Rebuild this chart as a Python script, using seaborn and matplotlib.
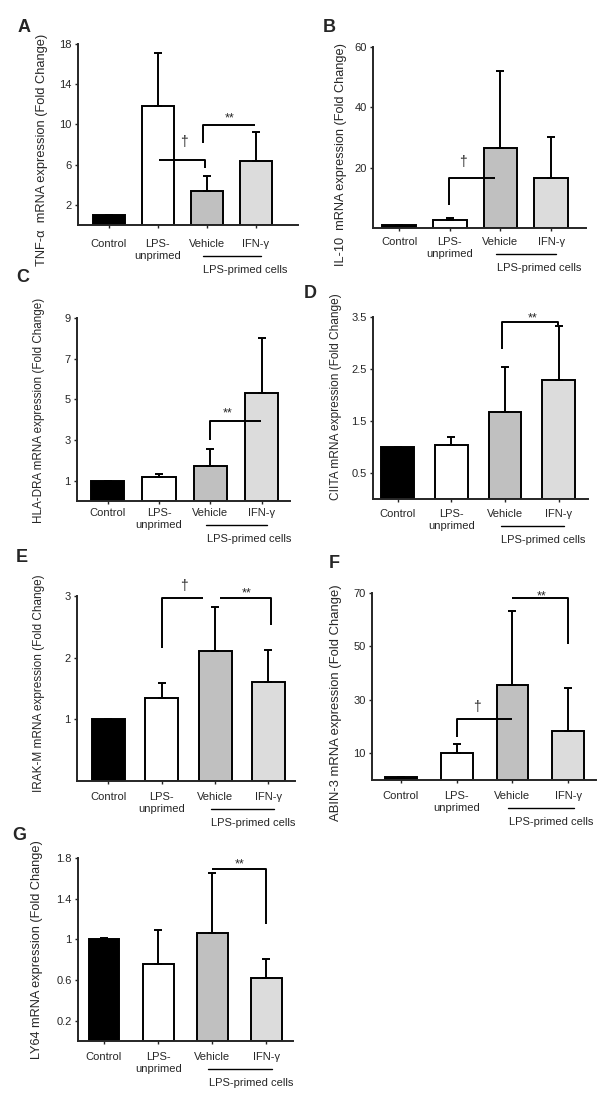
import numpy as np
import pandas as pd
import seaborn as sns
import matplotlib.pyplot as plt
from matplotlib.transforms import blended_transform_factory

sns.set_style("ticks")
plt.rcParams['font.family'] = ['Liberation Sans', 'DejaVu Sans']

groups = ["Control", "LPS-\nunprimed", "Vehicle", "IFN-\u03b3"]
bar_colors = ["#000000", "#ffffff", "#c0c0c0", "#dcdcdc"]

# means and upper SD
tnf_mean = [1.0, 11.8, 3.4, 6.4]
tnf_sd = [0.0, 5.3, 1.5, 2.85]
il10_mean = [1.0, 2.6, 26.4, 16.5]
il10_sd = [0.0, 0.6, 25.5, 13.8]
hla_mean = [1.0, 1.2, 1.7, 5.3]
hla_sd = [0.0, 0.15, 0.85, 2.7]
ciita_mean = [1.0, 1.03, 1.67, 2.29]
ciita_sd = [0.0, 0.17, 0.86, 1.04]
irak_mean = [1.0, 1.34, 2.11, 1.6]
irak_sd = [0.0, 0.25, 0.71, 0.52]
abin_mean = [1.0, 10.0, 35.6, 18.3]
abin_sd = [0.0, 3.6, 27.6, 16.0]
ly64_mean = [1.0, 0.76, 1.065, 0.62]
ly64_sd = [0.01, 0.33, 0.585, 0.19]

tnf_ticks = [2, 6, 10, 14, 18]
il10_ticks = [20, 40, 60]
hla_ticks = [1, 3, 5, 7, 9]
ciita_ticks = [0.5, 1.5, 2.5, 3.5]
irak_ticks = [1, 2, 3]
abin_ticks = [10, 30, 50, 70]
ly64_ticks = [0.2, 0.6, 1, 1.4, 1.8]

# significance brackets: (x0, x1, y, left end, right end)
tnf_brackets = [(1.02, 1.96, 6.46, None, 5.67), (1.92, 2.98, 9.94, 8.15, None)]
tnf_marks = [("\u2020", 1.53, 8.25), ("**", 2.47, 10.9)]
il10_brackets = [(0.98, 1.89, 16.6, 7.6, None)]
il10_marks = [("\u2020", 1.26, 21.9)]
hla_brackets = [(2.0, 2.98, 3.92, 3.0, None)]
hla_marks = [("**", 2.34, 4.46)]
ciita_brackets = [(1.95, 2.99, 3.4, 2.89, 3.35)]
ciita_marks = [("**", 2.52, 3.54)]
irak_brackets = [(1.0, 1.77, 2.97, 2.16, None), (2.09, 3.05, 2.97, None, 2.53)]
irak_marks = [("\u2020", 1.42, 3.16), ("**", 2.6, 3.1)]
abin_brackets = [(1.0, 1.99, 23, 16, None), (1.99, 3.0, 68, None, 51)]
abin_marks = [("\u2020", 1.36, 27.5), ("**", 2.53, 70)]
ly64_brackets = [(1.99, 3.0, 1.69, None, 1.15)]
ly64_marks = [("**", 2.51, 1.77)]

W, H = 600, 1104
fig = plt.figure(figsize=(W / 100, H / 100), dpi=100)

# layout in pixels: left, right, top, bottom, xlim, bar width, label offset,
# ylabel pos, ylabel size, letter pos
panels = [
    ("A", "TNF-\u03b1  mRNA expression (Fold Change)", tnf_mean, tnf_sd, tnf_ticks, tnf_brackets, tnf_marks,
     (78, 298, 44, 225), (-0.63, 3.86), 0.65, 20, (48, 150), 9.3, (24, 27)),
    ("B", "IL-10  mRNA expression (Fold Change)", il10_mean, il10_sd, il10_ticks, il10_brackets, il10_marks,
     (373, 586, 47, 228), (-0.52, 3.69), 0.67, 15, (347, 155), 9.2, (329, 27)),
    ("C", "HLA-DRA mRNA expression (Fold Change)", hla_mean, hla_sd, hla_ticks, hla_brackets, hla_marks,
     (77, 290, 318, 501), (-0.6, 3.55), 0.65, 13, (45, 410), 8.4, (23, 277)),
    ("D", "CIITA mRNA expression (Fold Change)", ciita_mean, ciita_sd, ciita_ticks, ciita_brackets, ciita_marks,
     (373, 588, 317, 499), (-0.46, 3.55), 0.61, 16, (342, 397), 8.6, (310, 294)),
    ("E", "IRAK-M mRNA expression (Fold Change)", irak_mean, irak_sd, irak_ticks, irak_brackets, irak_marks,
     (77, 295, 596, 781), (-0.59, 3.5), 0.62, 17, (45, 683), 8.5, (22, 558)),
    ("F", "ABIN-3 mRNA expression (Fold Change)", abin_mean, abin_sd, abin_ticks, abin_brackets, abin_marks,
     (372, 596, 593, 780), (-0.52, 3.5), 0.57, 17, (342, 703), 9.4, (334, 564)),
    ("G", "LY64 mRNA expression (Fold Change)", ly64_mean, ly64_sd, ly64_ticks, ly64_brackets, ly64_marks,
     (78, 293, 858, 1041), (-0.48, 3.49), 0.57, 17, (43, 950), 9.2, (19, 836)),
]

lw = 1.4
for letter, ylab, mean, sd, ticks, brackets, marks, box, xlim, bw, d, ylpos, ylsize, lpos in panels:
    l, r, t, b = box
    ax = fig.add_axes([l / W, 1 - b / H, (r - l) / W, (b - t) / H])
    hpx = b - t
    df = pd.DataFrame({"group": groups, "value": mean})
    sns.barplot(data=df, x="group", y="value", hue="group", palette=bar_colors, order=groups,
                legend=False, width=bw, edgecolor="black", linewidth=lw, errorbar=None, ax=ax)
    ax.errorbar(np.arange(4), mean, yerr=[np.zeros(4), sd], fmt="none", ecolor="black",
                elinewidth=lw, capsize=2.8, capthick=lw, zorder=3)
    ax.set_xlim(*xlim)
    ax.set_ylim(0, ticks[-1])
    ax.set_yticks(ticks)
    ax.set_yticklabels([f"{v:g}" for v in ticks])
    ax.set_xlabel("")
    ax.set_ylabel(ylab, fontsize=ylsize)
    ax.yaxis.set_label_coords((ylpos[0] - l) / (r - l), (b - ylpos[1]) / hpx)
    sns.despine(ax=ax)
    for s in ["left", "bottom"]:
        ax.spines[s].set_linewidth(lw)
    ax.tick_params(axis="y", length=2.5, width=1, pad=2, labelsize=8)
    ax.tick_params(axis="x", length=2.5, width=1, pad=max((d - 9.5) / 1.389, 1), labelsize=8)

    # significance brackets
    for x0, x1, y, yl, yr in brackets:
        xs, ys = [x0, x1], [y, y]
        if yl is not None:
            xs, ys = [x0] + xs, [yl] + ys
        if yr is not None:
            xs, ys = xs + [x1], ys + [yr]
        ax.plot(xs, ys, color="black", lw=lw, clip_on=False, solid_capstyle="butt")
    for txt, x, y in marks:
        if txt == "**":
            ax.annotate(txt, (x, y), xytext=(0, -2.5), textcoords="offset points",
                        ha="center", va="center", fontsize=9, annotation_clip=False)
        else:
            ax.text(x, y, txt, ha="center", va="center", fontsize=10, clip_on=False)

    # LPS-primed group line under the x labels
    trans = blended_transform_factory(ax.transData, ax.transAxes)
    ax.plot([1.92, 3.1], [-(d + 11) / hpx] * 2, color="black", lw=1, transform=trans, clip_on=False)
    ax.text(1.93, -(d + 25) / hpx, "LPS-primed cells", transform=trans, ha="left", va="center", fontsize=8)

    fig.text(lpos[0] / W, 1 - lpos[1] / H, letter, ha="center", va="center", fontsize=13, fontweight="bold")

fig.savefig("out.png", dpi=100)
